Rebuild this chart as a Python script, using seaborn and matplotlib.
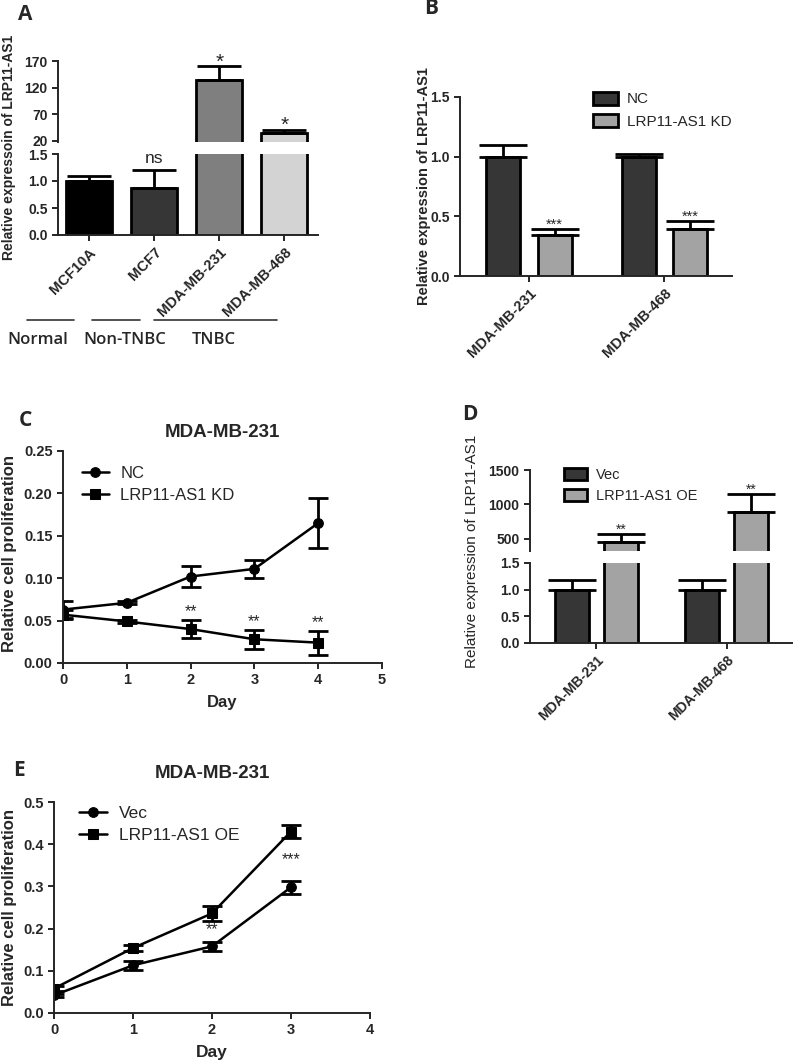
import numpy as np
import pandas as pd
import matplotlib
matplotlib.use('Agg')
import matplotlib.pyplot as plt
from matplotlib.lines import Line2D
from matplotlib.container import BarContainer
import seaborn as sns

W, H = 793, 1064

# A: LRP11-AS1 expression in breast cell lines
a_cells = ['MCF10A', 'MCF7', 'MDA-MB-231', 'MDA-MB-468']
a_means = [1.0, 0.87, 135.0, 35.0]
a_errs = [0.10, 0.33, 25.0, 6.0]
a_marks = ['', 'ns', '*', '*']
a_groups = ['Normal', 'Non-TNBC', 'TNBC']
a_colors = ['#000000', '#363636', '#7f7f7f', '#d3d3d3']

# B: knockdown
b_cells = ['MDA-MB-231', 'MDA-MB-468']
b_groups = ['NC', 'LRP11-AS1 KD']
b_nc = [1.0, 1.0]
b_nc_err = [0.10, 0.02]
b_kd = [0.34, 0.39]
b_kd_err = [0.05, 0.07]
b_marks = ['', '', '***', '***']

# C: proliferation after knockdown
c_days = [0, 1, 2, 3, 4]
c_nc = [0.063, 0.071, 0.102, 0.111, 0.165]
c_nc_err = [0.010, 0.002, 0.012, 0.011, 0.029]
c_kd = [0.057, 0.049, 0.040, 0.028, 0.024]
c_kd_err = [0.005, 0.002, 0.011, 0.011, 0.014]
c_marks = ['', '', '**', '**', '**']

# D: overexpression
d_cells = ['MDA-MB-231', 'MDA-MB-468']
d_groups = ['Vec', 'LRP11-AS1 OE']
d_vec = [1.0, 1.0]
d_vec_err = [0.18, 0.18]
d_oe = [450.0, 887.0]
d_oe_err = [120.0, 263.0]
d_marks = ['', '', '**', '**']

# E: proliferation after overexpression
e_days = [0, 1, 2, 3]
e_vec = [0.042, 0.113, 0.158, 0.298]
e_vec_err = [0.004, 0.010, 0.010, 0.015]
e_oe = [0.058, 0.154, 0.236, 0.430]
e_oe_err = [0.005, 0.008, 0.017, 0.015]
e_marks = ['', '', '**', '***']

bar_pal = ['#363636', '#a3a3a3']

sns.set_style('ticks')
plt.rcParams['font.family'] = ['Liberation Sans', 'DejaVu Sans']
plt.rcParams['axes.linewidth'] = 1.4

fig = plt.figure(figsize=(W / 100, H / 100), dpi=100)


def px_axes(x0, y0, x1, y1):
    return fig.add_axes([x0 / W, 1 - y1 / H, (x1 - x0) / W, (y1 - y0) / H])


def style(ax, size=9.5, weight='bold'):
    sns.despine(ax=ax)
    ax.tick_params(width=1.4, length=4, labelsize=size)
    for lab in ax.get_xticklabels() + ax.get_yticklabels():
        lab.set_fontweight(weight)
    ax.set_xlabel('')
    ax.set_ylabel('')


def fig_text(x, y, s, **kw):
    fig.text(x / W, 1 - y / H, s, **kw)


def bars(ax, df, hue, palette, errs, width, gap=0, legend=False, cap=16):
    sns.barplot(data=df, x='cell', y='val', hue=hue, palette=palette, width=width,
                gap=gap, edgecolor='black', linewidth=2, errorbar=None,
                legend=legend, ax=ax)
    rects = [r for c in ax.containers if isinstance(c, BarContainer) for r in c]
    xs = [r.get_x() + r.get_width() / 2 for r in rects]
    hs = [r.get_height() for r in rects]
    ax.errorbar(xs, hs, yerr=[np.zeros(len(errs)), errs], fmt='none', ecolor='black',
                elinewidth=2, capsize=cap, capthick=2)
    return xs, hs


def top_only(ax):
    ax.spines['bottom'].set_visible(False)
    ax.tick_params(axis='x', bottom=False, labelbottom=False)


# ---------------- A ----------------
df_a = pd.DataFrame({'cell': a_cells, 'val': a_means})
ax_a1 = px_axes(58, 61, 318, 142)
ax_a2 = px_axes(58, 154, 318, 235)
for ax in (ax_a1, ax_a2):
    xs, hs = bars(ax, df_a, 'cell', a_colors, a_errs, 0.7)
    ax.set_xlim(-0.48, 3.52)
ax_a1.set_ylim(18, 170)
ax_a1.set_yticks([20, 70, 120, 170])
ax_a2.set_ylim(0, 1.5)
ax_a2.set_yticks([0, 0.5, 1.0, 1.5])
style(ax_a1, size=10)
style(ax_a2, size=10)
top_only(ax_a1)
ax_a2.set_xticks(range(len(a_cells)))
ax_a2.set_xticklabels(a_cells, rotation=45, ha='right', rotation_mode='anchor',
                      fontweight='bold', fontsize=10.5)
for x, m, v, e in zip(xs, a_marks, a_means, a_errs):
    if m == '*':
        ax_a1.text(x, v + e - 2, m, ha='center', va='baseline', fontsize=15, clip_on=False)
    elif m == 'ns':
        ax_a2.text(x, v + e + 0.14, m, ha='center', va='baseline', fontsize=12.5, clip_on=False)
fig_text(9, 147, 'Relative expressoin of LRP11-AS1', rotation=90, ha='center',
         va='center', fontsize=10, fontweight='bold')
for name, (x0, x1), xc in zip(a_groups, [(27, 74), (92, 140), (154, 277)], [38, 125, 214]):
    fig.add_artist(Line2D([x0 / W, x1 / W], [1 - 320 / H] * 2, color='#333333', lw=1.2))
    fig_text(xc, 340, name, ha='center', va='center', fontsize=12,
             family=['Open Sans', 'DejaVu Sans'], fontweight='semibold')

# ---------------- B ----------------
df_b = pd.DataFrame({'cell': b_cells * 2, 'val': b_nc + b_kd,
                     'group': [b_groups[0]] * 2 + [b_groups[1]] * 2})
ax_b = px_axes(460, 97, 732, 276)
xs, hs = bars(ax_b, df_b, 'group', bar_pal, b_nc_err + b_kd_err, 0.76, 0.34,
              legend=True, cap=17)
ax_b.set_xlim(-0.51, 1.5)
ax_b.set_ylim(0, 1.5)
ax_b.set_yticks([0, 0.5, 1.0, 1.5])
style(ax_b, size=10)
ax_b.set_xticks(range(len(b_cells)))
ax_b.set_xticklabels(b_cells, rotation=45, ha='right', rotation_mode='anchor',
                     fontweight='bold', fontsize=10.5)
for x, m, h, e in zip(xs, b_marks, hs, b_nc_err + b_kd_err):
    if m:
        ax_b.text(x, h + e + 0.005, m, ha='center', va='baseline', fontsize=10.5)
ax_b.legend(loc='upper left', bbox_to_anchor=(0.49, 1.03), frameon=False, fontsize=11,
            handlelength=1.6, handleheight=0.95, borderpad=0, borderaxespad=0,
            handletextpad=0.6, labelspacing=0.5)
fig_text(424, 186, 'Relative expression of LRP11-AS1', rotation=90, ha='center',
         va='center', fontsize=10.5, fontweight='bold')

# ---------------- C ----------------
ax_c = px_axes(63, 451, 382, 663)
for vals, errs, mk, name in [(c_nc, c_nc_err, 'o', 'NC'), (c_kd, c_kd_err, 's', 'LRP11-AS1 KD')]:
    sns.lineplot(x=c_days, y=vals, marker=mk, color='black', linewidth=1.8,
                 markersize=7, markeredgecolor='black', label=name, ax=ax_c)
    ax_c.errorbar(c_days, vals, yerr=errs, fmt='none', ecolor='black',
                  elinewidth=2, capsize=7, capthick=2)
ax_c.set_xlim(0, 5)
ax_c.set_ylim(0, 0.25)
ax_c.set_xticks(range(6))
ax_c.set_yticks([0, 0.05, 0.10, 0.15, 0.20, 0.25])
ax_c.set_yticklabels(['%.2f' % t for t in ax_c.get_yticks()])
style(ax_c, size=10.5)
for d, m, v, e in zip(c_days, c_marks, c_kd, c_kd_err):
    if m:
        ax_c.text(d, v + e + 0.004, m, ha='center', va='baseline', fontsize=11.5)
ax_c.legend(loc='upper left', bbox_to_anchor=(0.06, 0.93), frameon=False, fontsize=12,
            handlelength=1.6, borderpad=0, borderaxespad=0, handletextpad=0.7,
            labelspacing=0.4)
ax_c.set_title('MDA-MB-231', fontsize=13.5, fontweight='bold', pad=10)
fig_text(10, 554, 'Relative cell proliferation', rotation=90, ha='center', va='center',
         fontsize=12, fontweight='bold')
fig_text(222, 702, 'Day', ha='center', va='center', fontsize=12, fontweight='bold')

# ---------------- D ----------------
df_d = pd.DataFrame({'cell': d_cells * 2, 'val': d_vec + d_oe,
                     'group': [d_groups[0]] * 2 + [d_groups[1]] * 2})
ax_d1 = px_axes(530, 470, 792, 551)
ax_d2 = px_axes(530, 563, 792, 643)
for ax, leg in ((ax_d1, True), (ax_d2, False)):
    xs, hs = bars(ax, df_d, 'group', bar_pal, d_vec_err + d_oe_err, 0.75, 0.3,
                  legend=leg, cap=17)
    ax.set_xlim(-0.51, 1.5)
ax_d1.set_ylim(320, 1500)
ax_d1.set_yticks([500, 1000, 1500])
ax_d2.set_ylim(0, 1.5)
ax_d2.set_yticks([0, 0.5, 1.0, 1.5])
style(ax_d1, size=10)
style(ax_d2, size=10)
top_only(ax_d1)
ax_d2.set_xticks(range(len(d_cells)))
ax_d2.set_xticklabels(d_cells, rotation=45, ha='right', rotation_mode='anchor', fontsize=10)
for x, m, h, e in zip(xs, d_marks, hs, d_vec_err + d_oe_err):
    if m:
        ax_d1.text(x, h + e + 5, m, ha='center', va='baseline', fontsize=10)
ax_d1.legend(loc='upper left', bbox_to_anchor=(0.13, 1.03), frameon=False, fontsize=10.5,
             handlelength=1.6, handleheight=0.9, borderpad=0, borderaxespad=0,
             handletextpad=0.6, labelspacing=0.5)
fig_text(472, 551, 'Relative expression of LRP11-AS1', rotation=90, ha='center',
         va='center', fontsize=11)

# ---------------- E ----------------
ax_e = px_axes(54, 802, 370, 1013)
for vals, errs, mk, name in [(e_vec, e_vec_err, 'o', 'Vec'), (e_oe, e_oe_err, 's', 'LRP11-AS1 OE')]:
    sns.lineplot(x=e_days, y=vals, marker=mk, color='black', linewidth=1.8,
                 markersize=7, markeredgecolor='black', label=name, ax=ax_e)
    ax_e.errorbar(e_days, vals, yerr=errs, fmt='none', ecolor='black',
                  elinewidth=2, capsize=7, capthick=2)
ax_e.set_xlim(0, 4)
ax_e.set_ylim(0, 0.5)
ax_e.set_xticks(range(5))
ax_e.set_yticks([0, 0.1, 0.2, 0.3, 0.4, 0.5])
ax_e.set_yticklabels(['%.1f' % t for t in ax_e.get_yticks()])
style(ax_e, size=10.5)
for d, m, lo, hi in zip(e_days, e_marks, e_vec, e_oe):
    if m:
        ax_e.text(d, (lo + hi) / 2, m, ha='center', va='center', fontsize=11.5)
ax_e.legend(loc='upper left', bbox_to_anchor=(0.08, 0.98), frameon=False, fontsize=12.5,
            handlelength=1.6, borderpad=0, borderaxespad=0, handletextpad=0.7,
            labelspacing=0.4)
ax_e.set_title('MDA-MB-231', fontsize=13.5, fontweight='bold', pad=17)
fig_text(10, 907, 'Relative cell proliferation', rotation=90, ha='center', va='center',
         fontsize=12, fontweight='bold')
fig_text(212, 1053, 'Day', ha='center', va='center', fontsize=12.5, fontweight='bold')

# panel letters
for letter, x, y in [('A', 25, 14), ('B', 431, 9), ('C', 25, 420), ('D', 470, 415), ('E', 19, 770)]:
    fig_text(x, y, letter, ha='center', va='center', fontsize=15, fontweight='bold',
             family=['Open Sans', 'DejaVu Sans'])

fig.savefig('out.png', dpi=100)
